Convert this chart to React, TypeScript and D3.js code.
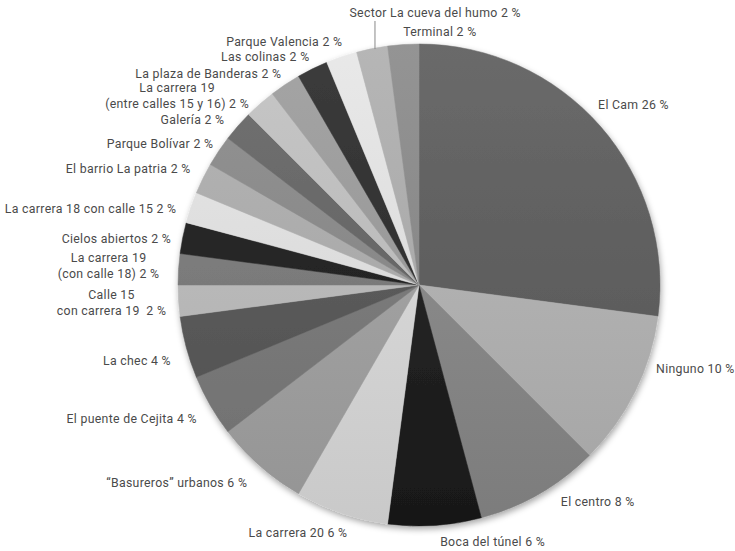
import React from "react";
import * as d3 from "d3";

const categories: string[][] = [
  ["El Cam 26 %"],
  ["Ninguno 10 %"],
  ["El centro 8 %"],
  ["Boca del túnel 6 %"],
  ["La carrera 20 6 %"],
  ["“Basureros” urbanos 6 %"],
  ["El puente de Cejita 4 %"],
  ["La chec 4 %"],
  ["Calle 15", "con carrera 19\u00a0\u00a02 %"],
  ["La carrera 19", "(con calle 18) 2 %"],
  ["Cielos abiertos 2 %"],
  ["La carrera 18 con calle 15 2 %"],
  ["El barrio La patria 2 %"],
  ["Parque Bolívar 2 %"],
  ["Galería 2 %"],
  ["La carrera 19", "(entre calles 15 y 16) 2 %"],
  ["La plaza de Banderas 2 %"],
  ["Las colinas 2 %"],
  ["Parque Valencia 2 %"],
  ["Sector La cueva del humo 2 %"],
  ["Terminal 2 %"],
];

const values: number[] = [26, 10, 8, 6, 6, 6, 4, 4, 2, 2, 2, 2, 2, 2, 2, 2, 2, 2, 2, 2, 2];

const sliceGreys: number[] = [
  0x5e, 0xb0, 0x88, 0x24, 0xd5, 0xa0, 0x7a, 0x5a, 0xb8, 0x7a, 0x24,
  0xdc, 0xaa, 0x88, 0x66, 0xbb, 0x99, 0x30, 0xdd, 0xaa, 0x88,
];

// label placement (polar: degrees clockwise from top, distance from centre)
const labelAngle: number[] = [
  50, 107, 140.5, 164, 206, 230.7, 245, 255, 266.6, 273.5, 278.6, 283, 291.7,
  298.6, 306, 308, 315, 326, 331, 3.4, 4.7,
];
const labelDist: number[] = [
  280, 289, 281, 267, 276, 313, 317, 292, 308, 311, 306, 337, 313, 295, 280,
  307, 298, 275, 278, 272.5, 254,
];

const W = 735;
const H = 551;
const CX = 419;
const CY = 285;
const R = 241;

function grey(v: number): string {
  const c = Math.max(0, Math.min(255, Math.round(v)));
  return d3.rgb(c, c, c).formatHex();
}

export default function App() {
  const pie = d3
    .pie<number>()
    .sort(null)
    .value((d) => d);
  const arcs = pie(values);
  const arc = d3.arc<d3.PieArcDatum<number>>().innerRadius(0).outerRadius(R);

  const toXY = (deg: number, dist: number) => {
    const a = (deg * Math.PI) / 180;
    return [CX + dist * Math.sin(a), CY - dist * Math.cos(a)];
  };

  const sectorIdx = 19;
  const sectorMid = (arcs[sectorIdx].startAngle + arcs[sectorIdx].endAngle) / 2;
  const lineX = CX + R * Math.sin(sectorMid) + 3;
  const lineY1 = CY - Math.sqrt(R * R - (lineX - CX) * (lineX - CX));
  const sectorLabelY = toXY(labelAngle[sectorIdx], labelDist[sectorIdx])[1];

  return (
    <svg
      width={W}
      height={H}
      style={{ position: "absolute", left: 0, top: 0, background: "#fff" }}
    >
      <defs>
        <filter id="shadow" x="-10%" y="-10%" width="120%" height="125%">
          <feDropShadow dx="1" dy="3" stdDeviation="3" floodColor="#000" floodOpacity="0.35" />
        </filter>
        {sliceGreys.map((g, i) => (
          <linearGradient
            key={i}
            id={`g${i}`}
            gradientUnits="userSpaceOnUse"
            x1={0}
            y1={-R}
            x2={0}
            y2={R}
          >
            <stop offset="0" stopColor={grey(g + 12)} />
            <stop offset="1" stopColor={grey(g - 12)} />
          </linearGradient>
        ))}
      </defs>
      <g transform={`translate(${CX},${CY})`} filter="url(#shadow)">
        {arcs.map((a, i) => (
          <path key={i} d={arc(a) || ""} fill={`url(#g${i})`} stroke={`url(#g${i})`} strokeWidth={0.5} />
        ))}
      </g>
      <line
        x1={lineX}
        y1={lineY1 + 1}
        x2={lineX}
        y2={sectorLabelY + 8}
        stroke="#888"
        strokeWidth={1}
      />
      <g
        fontFamily="Roboto, 'DejaVu Sans', sans-serif"
        fontSize={12.3}
        letterSpacing={0.3}
        fill="#4a4a4a"
      >
        {categories.map((lines, i) => {
          const [x, y] = toXY(labelAngle[i], labelDist[i]);
          const lh = 16;
          const y0 = y - ((lines.length - 1) * lh) / 2;
          return (
            <text key={i} textAnchor="middle" dominantBaseline="central">
              {lines.map((t, j) => (
                <tspan key={j} x={x} y={y0 + j * lh}>
                  {t}
                </tspan>
              ))}
            </text>
          );
        })}
      </g>
    </svg>
  );
}
